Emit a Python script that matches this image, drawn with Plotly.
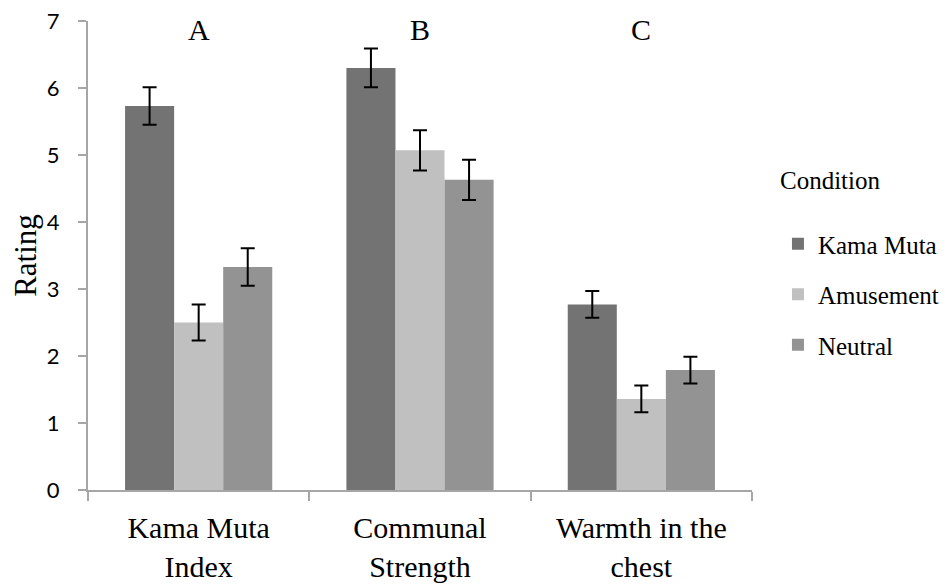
import plotly.graph_objects as go

categories = ["Kama Muta<br>Index", "Communal<br>Strength", "Warmth in the<br>chest"]
panel_letters = ["A", "B", "C"]
series_names = ["Kama Muta", "Amusement", "Neutral"]
kama_muta = [5.73, 6.30, 2.77]
amusement = [2.50, 5.07, 1.36]
neutral = [3.33, 4.63, 1.79]
kama_muta_err = [0.28, 0.29, 0.20]
amusement_err = [0.27, 0.30, 0.20]
neutral_err = [0.28, 0.30, 0.20]
colors = ["#737373", "#c0c0c0", "#939393"]
y_ticks = [0, 1, 2, 3, 4, 5, 6, 7]

serif = "Liberation Serif"
sans = "Lato"

fig = go.Figure()
for i, (name, vals, errs) in enumerate(zip(series_names,
                                            [kama_muta, amusement, neutral],
                                            [kama_muta_err, amusement_err, neutral_err])):
    fig.add_trace(go.Bar(
        x=categories, y=vals, name=name,
        marker=dict(color=colors[i], line=dict(width=0)),
        error_y=dict(type="data", array=errs, visible=True,
                     color="black", thickness=2, width=7),
        legendgroup=name,
    ))

for cat, letter in zip(categories, panel_letters):
    fig.add_annotation(x=cat, y=6.88, xref="x", yref="y", text=letter,
                       showarrow=False, yanchor="middle",
                       font=dict(family=serif, size=30, color="black"))

# page body has an 8px margin, so the figure is sized to fit the window
fig.update_layout(
    width=943, height=577,
    margin=dict(l=80, r=199, t=13, b=95),
    paper_bgcolor="white", plot_bgcolor="white",
    barmode="group", bargap=0.335, bargroupgap=0,
    font=dict(family=serif, color="black"),
    legend=dict(
        title=dict(text="Condition<br> ", font=dict(family=serif, size=25, color="black")),
        font=dict(family=serif, size=25, color="black"),
        xref="container", yref="container",
        x=0.8165, xanchor="left", y=0.7435, yanchor="top",
        tracegroupgap=15, itemclick=False,
    ),
    showlegend=True,
)
fig.update_xaxes(
    automargin=False,
    showline=True, linecolor="#a6a6a6", linewidth=2,
    ticks="outside", tickson="boundaries", ticklen=9, tickcolor="#a6a6a6", tickwidth=2,
    tickfont=dict(family=serif, size=30, color="black"),
    ticklabelstandoff=10, ticklabeloverflow="allow",
    showgrid=False, zeroline=False,
)
fig.update_yaxes(
    automargin=False,
    range=[0, 7], tickvals=y_ticks,
    showline=True, linecolor="#a6a6a6", linewidth=2,
    ticks="outside", ticklen=8, tickcolor="#a6a6a6", tickwidth=2,
    tickfont=dict(family=sans, size=22, color="black"),
    ticklabelstandoff=14, ticklabeloverflow="allow",
    showgrid=False, zeroline=False,
    title=dict(text="Rating", font=dict(family=serif, size=31, color="black"), standoff=3),
)

fig.write_html("out.html")
